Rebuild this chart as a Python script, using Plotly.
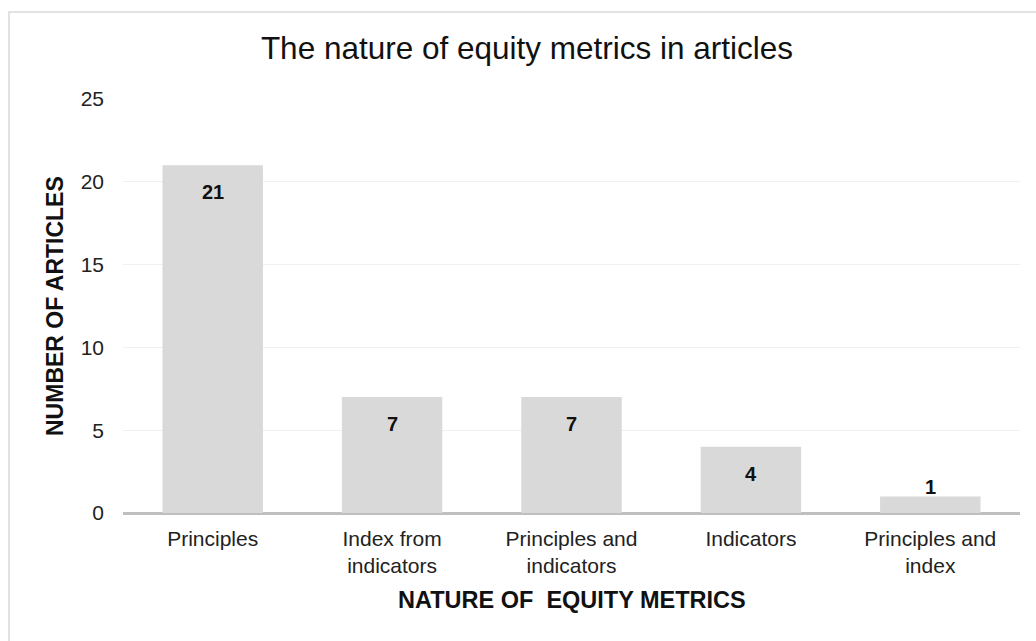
import plotly.graph_objects as go

# Article counts per type of equity metric
categories = [
    "Principles",
    "Index from<br>indicators",
    "Principles and<br>indicators",
    "Indicators",
    "Principles and<br>index",
]
counts = [21, 7, 7, 4, 1]
y_ticks = [0, 5, 10, 15, 20, 25]

FONT = "Liberation Sans, Arial, Helvetica, sans-serif"
W, H = 1036, 641
ML, MR, MT, MB = 123, 16, 99, 128

fig = go.Figure(
    go.Bar(
        x=categories,
        y=counts,
        marker=dict(color="#d9d9d9", line=dict(width=0)),
        hoverinfo="x+y",
    )
)

# Value labels: inside near the top for tall bars, just above for short ones
for cat, val in zip(categories, counts):
    inside = val >= 2
    fig.add_annotation(
        x=cat, y=val, xref="x", yref="y",
        text=f"<b>{val}</b>",
        showarrow=False,
        yanchor="middle",
        yshift=-27 if inside else 9,
        font=dict(family=FONT, size=20, color="#111111"),
    )

plot_w = W - ML - MR
plot_h = H - MT - MB

# Axis titles
fig.add_annotation(
    x=(55 - ML) / plot_w, y=0.5, xref="paper", yref="paper",
    text="<b>NUMBER OF ARTICLES</b>", textangle=-90, showarrow=False,
    xanchor="center", yanchor="middle",
    font=dict(family=FONT, size=23, color="#111111"),
)
fig.add_annotation(
    x=0.5, y=(MT + plot_h - 600) / plot_h, xref="paper", yref="paper",
    text="<b>NATURE OF \u00a0EQUITY METRICS</b>", showarrow=False,
    xanchor="center", yanchor="middle",
    font=dict(family=FONT, size=23.5, color="#111111"),
)

# Chart frame
fig.add_shape(
    type="rect", xref="paper", yref="paper",
    x0=(9 - ML) / plot_w, x1=(1045 - ML) / plot_w,
    y0=(MT + plot_h - 660) / plot_h, y1=(MT + plot_h - 12) / plot_h,
    line=dict(color="#d9d9d9", width=1.5), fillcolor="rgba(0,0,0,0)",
    layer="below",
)

fig.update_layout(
    width=W, height=H,
    margin=dict(l=ML, r=MR, t=MT, b=MB, pad=0),
    paper_bgcolor="white", plot_bgcolor="white",
    bargap=0.44,
    showlegend=False,
    title=dict(
        text="The nature of equity metrics in articles",
        x=527 / W, xanchor="center", xref="container",
        y=1 - 48 / H, yanchor="middle", yref="container",
        font=dict(family=FONT, size=31.5, color="#111111"),
    ),
    font=dict(family=FONT, color="#222222"),
)

fig.update_xaxes(
    showline=False, showgrid=False, zeroline=False,
    ticks="", tickfont=dict(family=FONT, size=21, color="#222222"),
    ticklabelstandoff=11,
)
fig.update_yaxes(
    range=[0, 25], tickvals=y_ticks,
    showgrid=True, gridcolor="#f0f0f0", gridwidth=1,
    zeroline=True, zerolinecolor="#bfbfbf", zerolinewidth=2.5,
    showline=False, ticks="",
    tickfont=dict(family=FONT, size=21, color="#222222"),
    ticklabelstandoff=18,
)

fig.write_html("out.html")
